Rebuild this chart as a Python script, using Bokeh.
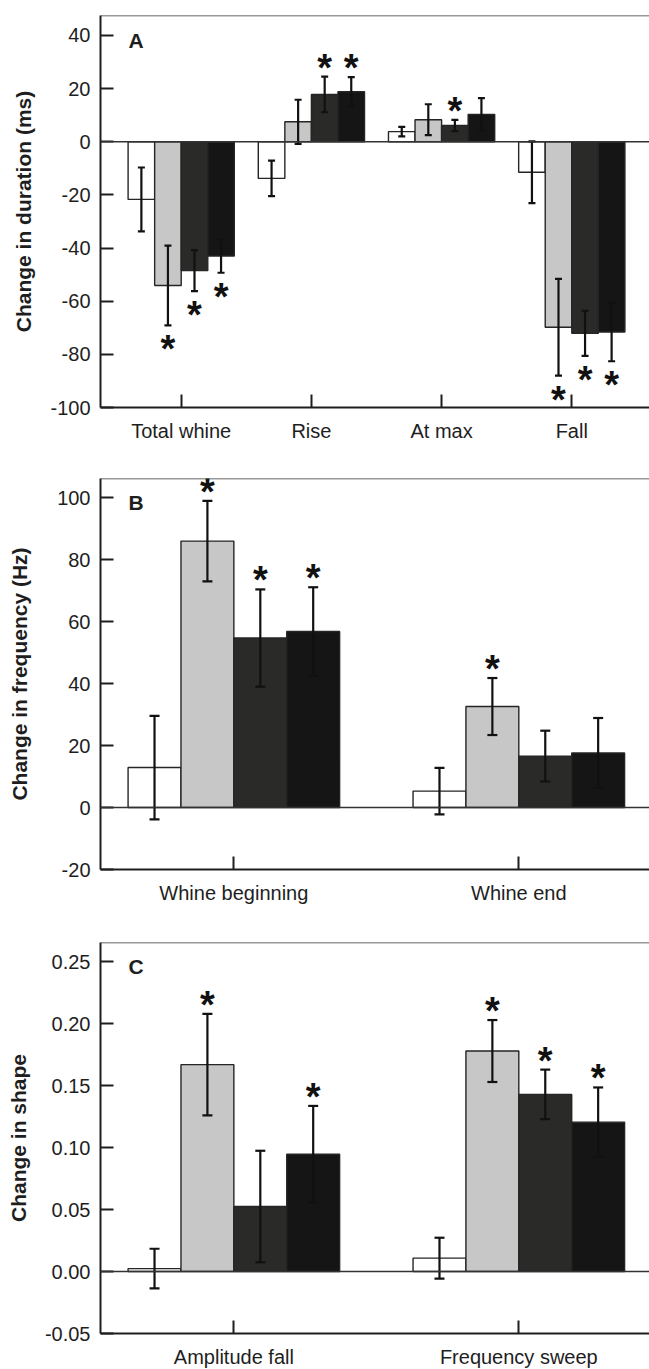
import numpy as np
from bokeh.plotting import figure
from bokeh.layouts import column
from bokeh.models import FixedTicker, Span
from bokeh.core.properties import value
from bokeh.embed import file_html
from bokeh.resources import INLINE

# ---------------- data ----------------
# four treatment series per panel: white, light grey, dark grey, black
cats_A = ["Total whine", "Rise", "At max", "Fall"]
A_white = [-21.7, -13.8, 3.8, -11.5]
A_white_err = [12.0, 6.7, 1.8, 11.6]
A_grey = [-54.1, 7.5, 8.3, -69.8]
A_grey_err = [15.0, 8.3, 5.8, 18.2]
A_dark = [-48.5, 17.8, 6.1, -72.1]
A_dark_err = [7.7, 6.7, 2.1, 8.5]
A_black = [-43.0, 18.8, 10.3, -71.6]
A_black_err = [6.3, 5.5, 6.1, 11.0]
A_sig = [[False, False, False, False],
         [True, False, False, True],
         [True, True, True, True],
         [True, True, False, True]]
A_ticks = [-100, -80, -60, -40, -20, 0, 20, 40]
A_tick_labels = ["-100", "-80", "-60", "-40", "-20", "0", "20", "40"]

cats_B = ["Whine beginning", "Whine end"]
B_white = [12.9, 5.3]
B_white_err = [16.7, 7.5]
B_grey = [86.0, 32.6]
B_grey_err = [13.0, 9.2]
B_dark = [54.7, 16.6]
B_dark_err = [15.7, 8.2]
B_black = [56.8, 17.6]
B_black_err = [14.3, 11.3]
B_sig = [[False, False], [True, True], [True, False], [True, False]]
B_ticks = [-20, 0, 20, 40, 60, 80, 100]
B_tick_labels = ["-20", "0", "20", "40", "60", "80", "100"]

cats_C = ["Amplitude fall", "Frequency sweep"]
C_white = [0.0024, 0.0108]
C_white_err = [0.016, 0.0165]
C_grey = [0.167, 0.178]
C_grey_err = [0.041, 0.025]
C_dark = [0.0525, 0.143]
C_dark_err = [0.045, 0.020]
C_black = [0.0947, 0.1206]
C_black_err = [0.039, 0.028]
C_sig = [[False, False], [True, True], [False, True], [True, True]]
C_ticks = [-0.05, 0.0, 0.05, 0.10, 0.15, 0.20, 0.25]
C_tick_labels = ["-0.05", "0.00", "0.05", "0.10", "0.15", "0.20", "0.25"]

FILLS = ["#ffffff", "#c6c7c6", "#2a2a29", "#141514"]
INK = "#1e1e1e"
FONT = "Liberation Sans"


def make_panel(letter, cats, means, errs, sigs, ytitle, yticks, ylabels, yrange, xrange,
               bar_w, cap_w, frame_h, top_b, bot_b, title_standoff):
    p = figure(width=649, frame_width=549, frame_height=frame_h,
               x_range=xrange, y_range=yrange, output_backend="svg",
               toolbar_location=None, min_border_left=100, min_border_right=0,
               min_border_top=top_b, min_border_bottom=bot_b)
    p.outline_line_color = None
    p.grid.visible = False
    p.background_fill_color = "white"
    p.border_fill_color = "white"

    p.add_layout(Span(location=yrange[1], dimension="width", line_color="#333333",
                      line_width=1.6))

    xs = np.arange(1, len(cats) + 1)
    n = len(means)
    for k in range(n):
        off = (k - (n - 1) / 2) * bar_w
        x = xs + off
        v = np.array(means[k])
        e = np.array(errs[k])
        p.vbar(x=x, top=v, bottom=0, width=bar_w, fill_color=FILLS[k],
               line_color="#252525", line_width=1.4)
    p.add_layout(Span(location=0, dimension="width", line_color="#333333",
                      line_width=1.4))
    for k in range(n):
        off = (k - (n - 1) / 2) * bar_w
        x = xs + off
        v = np.array(means[k])
        e = np.array(errs[k])
        p.segment(x0=x, y0=v - e, x1=x, y1=v + e, line_color="#111111", line_width=2.2)
        p.scatter(x=x, y=v + e, marker="dash", size=cap_w, line_color="#111111",
                  line_width=2.2)
        p.scatter(x=x, y=v - e, marker="dash", size=cap_w, line_color="#111111",
                  line_width=2.2)
        up_x = [a for a, b, s in zip(x, v, sigs[k]) if s and b >= 0]
        up_y = [b + c for b, c, s in zip(v, e, sigs[k]) if s and b >= 0]
        dn_x = [a for a, b, s in zip(x, v, sigs[k]) if s and b < 0]
        dn_y = [b - c for b, c, s in zip(v, e, sigs[k]) if s and b < 0]
        if up_x:
            p.text(x=up_x, y=up_y, text=["*"] * len(up_x), text_align="center",
                   text_baseline="alphabetic", y_offset=-9,
                   text_font=value(FONT), text_font_style="bold",
                   text_font_size="38px", text_color="#111111")
        if dn_x:
            p.text(x=dn_x, y=dn_y, text=["*"] * len(dn_x), text_align="center",
                   text_baseline="alphabetic", y_offset=24,
                   text_font=value(FONT), text_font_style="bold",
                   text_font_size="38px", text_color="#111111")

    p.text(x=[xrange[0]], y=[yticks[-1]], text=[letter], x_offset=28, y_offset=5,
           text_align="left", text_baseline="middle", text_font=value(FONT),
           text_font_style="bold", text_font_size="21px", text_color=INK)

    ax = p.xaxis[0]
    ax.ticker = FixedTicker(ticks=list(xs))
    ax.major_label_overrides = {int(i): c for i, c in zip(xs, cats)}
    ax.major_tick_in = 13
    ax.major_tick_out = 0
    ax.minor_tick_line_color = None
    ax.axis_line_width = 2
    ax.axis_line_color = INK
    ax.major_tick_line_width = 2
    ax.major_tick_line_color = INK
    ax.major_label_text_font = FONT
    ax.major_label_text_font_size = "20px"
    ax.major_label_text_color = INK
    ax.major_label_standoff = 12

    ay = p.yaxis[0]
    ay.ticker = FixedTicker(ticks=yticks)
    ay.major_label_overrides = {t: s for t, s in zip(yticks, ylabels)}
    ay.major_tick_in = 13
    ay.major_tick_out = 0
    ay.minor_tick_line_color = None
    ay.axis_line_width = 2
    ay.axis_line_color = INK
    ay.major_tick_line_width = 2
    ay.major_tick_line_color = INK
    ay.major_label_text_font = FONT
    ay.major_label_text_font_size = "20px"
    ay.major_label_text_color = INK
    ay.major_label_standoff = 10
    ay.axis_label = ytitle
    ay.axis_label_text_font = FONT
    ay.axis_label_text_font_style = "bold"
    ay.axis_label_text_font_size = "21px"
    ay.axis_label_text_color = INK
    ay.axis_label_standoff = title_standoff
    return p


pA = make_panel("A", cats_A, [A_white, A_grey, A_dark, A_black],
                [A_white_err, A_grey_err, A_dark_err, A_black_err], A_sig,
                "Change in duration (ms)", A_ticks, A_tick_labels, (-100, 47.5),
                (0.380, 4.597), 0.204, 7, 392, 15, 55, 12)
pB = make_panel("B", cats_B, [B_white, B_grey, B_dark, B_black],
                [B_white_err, B_grey_err, B_dark_err, B_black_err], B_sig,
                "Change in frequency (Hz)", B_ticks, B_tick_labels, (-20, 106.2),
                (0.532, 2.4586), 0.1856, 10, 391, 16, 54, 23)
pC = make_panel("C", cats_C, [C_white, C_grey, C_dark, C_black],
                [C_white_err, C_grey_err, C_dark_err, C_black_err], C_sig,
                "Change in shape", C_ticks, C_tick_labels, (-0.05, 0.2656),
                (0.532, 2.4586), 0.1856, 10, 391, 19, 36, 12)

layout = column(pA, pB, pC, spacing=0)
open("out.html", "w").write(file_html(layout, INLINE))
